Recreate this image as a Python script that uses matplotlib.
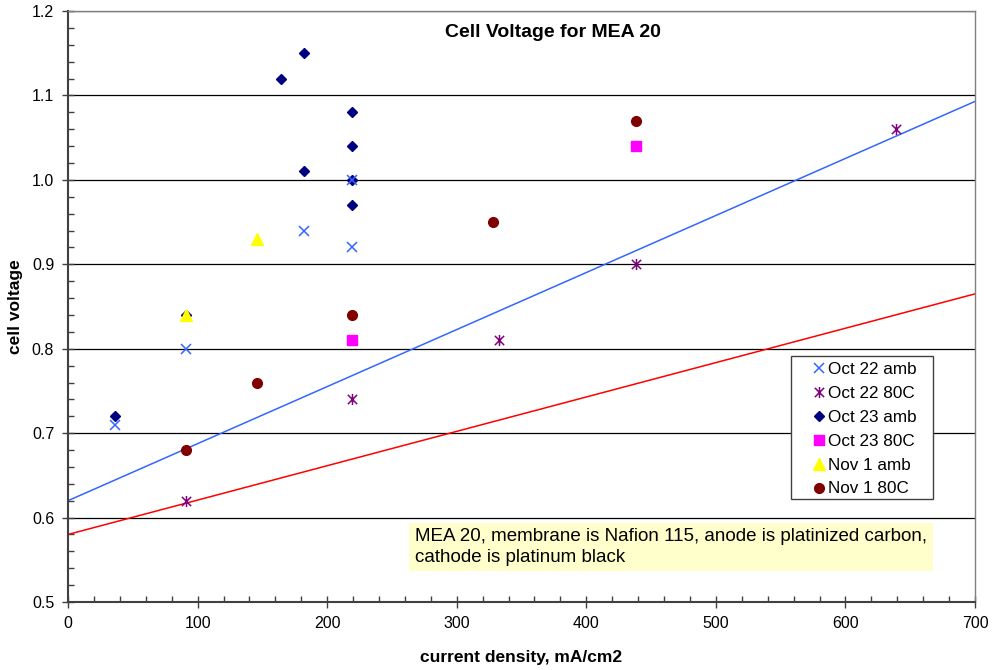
import numpy as np
import matplotlib.pyplot as plt
from matplotlib.path import Path
from matplotlib.patches import Rectangle
from matplotlib.ticker import MultipleLocator

plt.rcParams["font.family"] = ["Liberation Sans", "DejaVu Sans"]

# measured points, current density (mA/cm2) and cell voltage
oct22_amb_x = [36, 91, 182, 219, 219]
oct22_amb_y = [0.71, 0.80, 0.94, 1.00, 0.92]
oct22_80c_x = [91, 219, 333, 438, 639]
oct22_80c_y = [0.62, 0.74, 0.81, 0.90, 1.06]
oct23_amb_x = [36, 91, 164, 182, 182, 219, 219, 219, 219]
oct23_amb_y = [0.72, 0.84, 1.12, 1.15, 1.01, 1.08, 1.04, 1.00, 0.97]
oct23_80c_x = [219, 438]
oct23_80c_y = [0.81, 1.04]
nov1_amb_x = [91, 146]
nov1_amb_y = [0.84, 0.93]
nov1_80c_x = [91, 146, 219, 328, 438]
nov1_80c_y = [0.68, 0.76, 0.84, 0.95, 1.07]

# straight reference lines
line_x = [0, 700]
blue_line_y = [0.62, 1.093]
red_line_y = [0.58, 0.865]

star = Path([(-1, -1), (1, 1), (-1, 1), (1, -1), (0, -1.2), (0, 1.2)],
            [Path.MOVETO, Path.LINETO, Path.MOVETO, Path.LINETO, Path.MOVETO, Path.LINETO])

fig = plt.figure(figsize=(9.93, 6.70), dpi=100)
ax = fig.add_axes([0.0685, 0.1015, 0.9134, 0.882])

for y in np.arange(0.6, 1.21, 0.1):
    ax.axhline(y, color="black", lw=0.9, zorder=1)

ax.plot(line_x, blue_line_y, color="#3366FF", lw=1.1, zorder=2)
ax.plot(line_x, red_line_y, color="#FF0000", lw=1.1, zorder=2)

ax.plot(oct22_amb_x, oct22_amb_y, ls="none", marker="x", color="#3366FF",
        ms=7, mew=1.1, label="Oct 22 amb", zorder=4)
ax.plot(oct22_80c_x, oct22_80c_y, ls="none", marker=star, color="#800080",
        ms=8, mew=1.1, label="Oct 22 80C", zorder=4)
ax.plot(oct23_amb_x, oct23_amb_y, ls="none", marker="D", color="#000080",
        ms=5.5, label="Oct 23 amb", zorder=3)
ax.plot(oct23_80c_x, oct23_80c_y, ls="none", marker="s", color="#FF00FF",
        ms=7, label="Oct 23 80C", zorder=3)
ax.plot(nov1_amb_x, nov1_amb_y, ls="none", marker="^", color="#FFFF00",
        ms=8, label="Nov 1 amb", zorder=5)
ax.plot(nov1_80c_x, nov1_80c_y, ls="none", marker="o", color="#800000",
        ms=7, label="Nov 1 80C", zorder=3)

ax.set_xlim(0, 700)
ax.set_ylim(0.5, 1.2)
ax.xaxis.set_major_locator(MultipleLocator(100))
ax.xaxis.set_minor_locator(MultipleLocator(20))
ax.yaxis.set_major_locator(MultipleLocator(0.1))
ax.yaxis.set_minor_locator(MultipleLocator(0.02))
ax.yaxis.set_major_formatter(plt.FormatStrFormatter("%.1f"))
ax.tick_params(which="major", direction="inout", length=8, width=1, labelsize=11.5,
               color="#404040", pad=6)
ax.tick_params(which="minor", direction="in", length=4, width=1, color="#404040")
for s in ax.spines.values():
    s.set_color("#808080")
    s.set_linewidth(1)
ax.spines["left"].set_color("#404040")
ax.spines["bottom"].set_color("#404040")
ax.spines["left"].set_linewidth(1.5)
ax.spines["bottom"].set_linewidth(1.5)

ax.set_xlabel("current density, mA/cm2", fontsize=12.5, fontweight="bold", labelpad=14)
ax.set_ylabel("cell voltage", fontsize=12.5, fontweight="bold", labelpad=6)
ax.text(0.535, 0.963, "Cell Voltage for MEA 20", transform=ax.transAxes,
        ha="center", va="center", fontsize=14, fontweight="bold")

# legend box drawn separately so its padding matches the original
ax.add_patch(Rectangle((0.7971, 0.1743), 0.1566, 0.2419, transform=ax.transAxes,
                       facecolor="white", edgecolor="#404040", lw=1, zorder=6))
leg = ax.legend(loc="upper left", bbox_to_anchor=(0.8203, 0.406), fontsize=12.3,
                frameon=False, handlelength=0.8, handletextpad=0.15, borderpad=0,
                borderaxespad=0, labelspacing=0.52, numpoints=1)
leg.set_zorder(7)

ax.text(0.3826, 0.093, "MEA 20, membrane is Nafion 115, anode is platinized carbon,\n"
        "cathode is platinum black", transform=ax.transAxes, ha="left", va="center",
        fontsize=13.5, linespacing=1.25,
        bbox=dict(boxstyle="square,pad=0.3", facecolor="#FFFFCC", edgecolor="none"))

fig.savefig("out.png", dpi=100)
